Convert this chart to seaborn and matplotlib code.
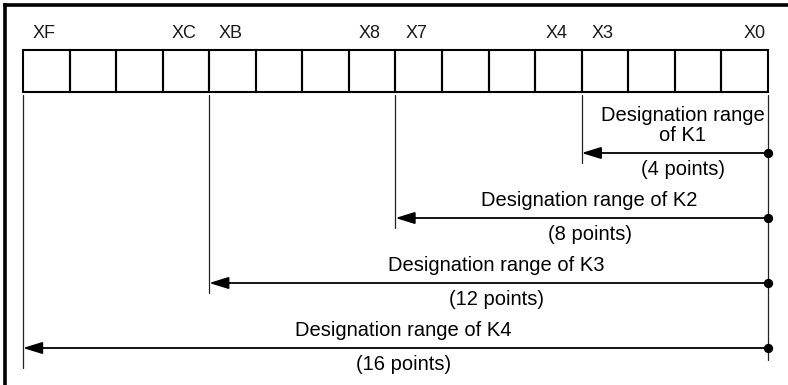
import numpy as np
import pandas as pd
import seaborn as sns
import matplotlib.pyplot as plt
from matplotlib.lines import Line2D
from matplotlib.patches import Rectangle

# --------- data ---------
bits = ['XF', 'XE', 'XD', 'XC', 'XB', 'XA', 'X9', 'X8',
        'X7', 'X6', 'X5', 'X4', 'X3', 'X2', 'X1', 'X0']
shown_labels = ['XF', 'XC', 'XB', 'X8', 'X7', 'X4', 'X3', 'X0']
ranges = ['K1', 'K2', 'K3', 'K4']
points = [4, 8, 12, 16]
range_text = ['Designation range\nof K1',
              'Designation range of K2',
              'Designation range of K3',
              'Designation range of K4']
points_text = [f'({p} points)' for p in points]

# --------- layout (pixels) ---------
W, H = 788, 385
cell_x0, cell_w = 23, 46.56
cell_top, cell_bot = 50, 92
arrow_y0, arrow_dy = 153, 65
n = len(bits)

sns.set_theme(style="white")
plt.rcParams['font.family'] = ['Liberation Sans', 'DejaVu Sans']
label_font = ['Liberation Sans Narrow', 'Liberation Sans', 'DejaVu Sans']

fig = plt.figure(figsize=(W / 100, H / 100), dpi=100)
ax = fig.add_axes([0, 0, 1, 1])
ax.set_xlim(-cell_x0 / cell_w, (W - cell_x0) / cell_w)
ax.set_ylim(H, 0)
ax.axis('off')

# outer frame (left + top only, the rest is cut off)
fig.add_artist(Line2D([4.7 / W, 4.7 / W], [0, 1 - 5.3 / H], color='black', lw=2.6,
                      solid_capstyle='projecting'))
fig.add_artist(Line2D([4.7 / W, 1], [1 - 5.3 / H, 1 - 5.3 / H], color='black', lw=2.6,
                      solid_capstyle='projecting'))

# bit cells
for i, b in enumerate(bits):
    ax.add_patch(Rectangle((i, cell_top), 1, cell_bot - cell_top, fill=False,
                           ec='black', lw=1.5))
    if b in shown_labels:
        if i == n - 1:
            ax.text(i + 0.95, 33, b, ha='right', va='center', fontsize=13,
                    color='#1a1a1a', family=label_font)
        else:
            ax.text(i + 0.45, 33, b, ha='center', va='center', fontsize=13,
                    color='#1a1a1a', family=label_font)

# range arrows
arrow_rows = []
for k, (name, p) in enumerate(zip(ranges, points)):
    y = arrow_y0 + k * arrow_dy
    left = n - p
    arrow_rows.append({'range': name, 'x': n, 'y': y})
    ext = 20 if p == n else 10
    ax.plot([left, left], [95, y + ext], color='#222222', lw=0.9)
    ax.annotate('', xy=(left, y), xytext=(n, y),
                arrowprops=dict(arrowstyle='-|>,head_length=0.9,head_width=0.28',
                                mutation_scale=13, lw=1.3, color='black',
                                shrinkA=0, shrinkB=0))
    mid = (left + n) / 2 + 0.17
    ax.text(mid, y - 8, range_text[k], ha='center', va='bottom', fontsize=14.5,
            color='black', linespacing=1.05)
    ax.text(mid, y + 7, points_text[k], ha='center', va='top', fontsize=14.5,
            color='black')

# right reference line
ax.plot([n, n], [95, 360], color='#222222', lw=0.9)

dots = pd.DataFrame(arrow_rows)
sns.scatterplot(data=dots, x='x', y='y', ax=ax, color='black', s=45,
                edgecolor='black', linewidth=0, zorder=5, legend=False)
ax.set_xlabel('')
ax.set_ylabel('')

plt.savefig('out.png', dpi=100)
